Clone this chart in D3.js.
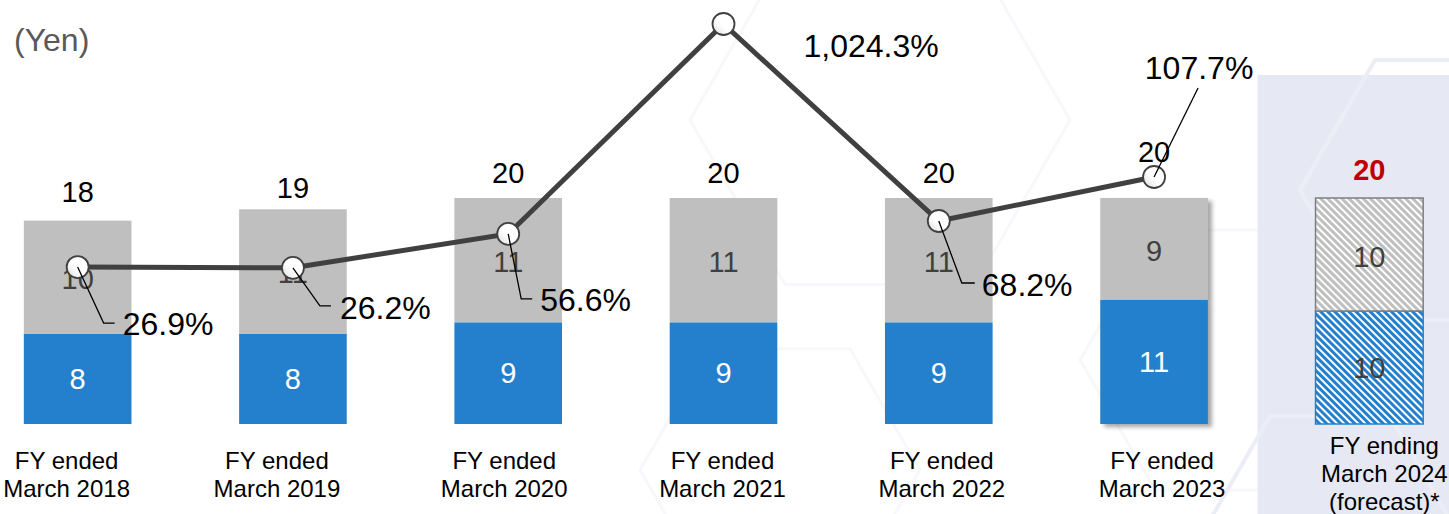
<!DOCTYPE html>
<html>
<head>
<meta charset="utf-8">
<script src="https://cdn.jsdelivr.net/npm/d3@7"></script>
<style>
  body { margin: 0; background: #fff; }
  svg { display: block; font-family: "Liberation Sans", Arial, sans-serif; }
</style>
</head>
<body>
<svg id="chart" width="1449" height="514"></svg>
<script>
// Dividend per share (yen) and payout ratio, by fiscal year
const categories = ["FY2018", "FY2019", "FY2020", "FY2021", "FY2022", "FY2023", "FY2024F"];
const axisLabels = [
  ["FY ended", "March 2018"],
  ["FY ended", "March 2019"],
  ["FY ended", "March 2020"],
  ["FY ended", "March 2021"],
  ["FY ended", "March 2022"],
  ["FY ended", "March 2023"],
  ["FY ending", "March 2024", "(forecast)*"]
];
const interimDividend = [8, 8, 9, 9, 9, 11, 10];
const yearEndDividend = [10, 11, 11, 11, 11, 9, 10];
const annualDividend = [18, 19, 20, 20, 20, 20, 20];
const payoutRatio = [26.9, 26.2, 56.6, 1024.3, 68.2, 107.7];
const forecastIndex = 6;

const svg = d3.select("#chart");
const W = 1449, H = 514;

const x = d3.scaleBand().domain(categories).range([-30, 1477]).paddingInner(0.5).paddingOuter(0.25);
const y = d3.scaleLinear().domain([0, 20]).range([424, 198]);
// payout ratio axis (hidden); values beyond the top are pinned to the plot edge
const y2 = d3.scaleLinear().domain([0, 245]).range([297, 24]).clamp(true);
const cx = d => x(d) + x.bandwidth() / 2;

const GREY = "#bfbfbf", BLUE = "#2480cc", DARK = "#404040";

// ---- defs: hatching, shadow, marker gradient
const defs = svg.append("defs");
function hatch(id, base) {
  const p = defs.append("pattern").attr("id", id).attr("patternUnits", "userSpaceOnUse")
    .attr("width", 5).attr("height", 5).attr("patternTransform", "rotate(-45)");
  p.append("rect").attr("width", 5).attr("height", 5).attr("fill", base);
  p.append("rect").attr("x", 0).attr("width", 2).attr("height", 5).attr("fill", "#fff");
}
hatch("hatchGrey", GREY);
hatch("hatchBlue", BLUE);
const sh = defs.append("filter").attr("id", "shadow").attr("x", "-10%").attr("y", "-10%").attr("width", "130%").attr("height", "130%");
sh.append("feDropShadow").attr("dx", 4).attr("dy", 3).attr("stdDeviation", 2)
  .attr("flood-color", "#000").attr("flood-opacity", 0.35);
const g = defs.append("linearGradient").attr("id", "dot").attr("x1", 1).attr("y1", 0).attr("x2", 0).attr("y2", 1);
g.append("stop").attr("offset", "0%").attr("stop-color", "#ffffff");
g.append("stop").attr("offset", "55%").attr("stop-color", "#ffffff");
g.append("stop").attr("offset", "100%").attr("stop-color", "#dcdcdc");

// ---- background: faint hexagon ornament and forecast panel
const hexPath = (hx, hy, r) => d3.range(6).map(i => {
  const a = Math.PI / 3 * i;
  return [hx + r * Math.cos(a), hy + r * Math.sin(a)];
});
const hexLine = d3.line().curve(d3.curveLinearClosed);
const ornaments = [[880, 120, 190], [780, 470, 140], [1230, 360, 150]];
svg.append("g").selectAll("path").data(ornaments).join("path")
  .attr("d", d => hexLine(hexPath(...d)))
  .attr("fill", "none").attr("stroke", "#f7f8fb").attr("stroke-width", 3);

const panelX = x(categories[forecastIndex]) - 58;
svg.append("rect").attr("x", panelX).attr("y", 75).attr("width", W - panelX).attr("height", H - 75)
  .attr("fill", "#e6e9f4");
const panelOrn = [[1450, 190, 150], [1330, 520, 120]];
svg.append("g").selectAll("path").data(panelOrn).join("path")
  .attr("d", d => hexLine(hexPath(...d)))
  .attr("fill", "none").attr("stroke", "#eceef7").attr("stroke-width", 4);

// ---- stacked bars
const rows = categories.map((c, i) => ({
  c, i, lo: interimDividend[i], hi: yearEndDividend[i], total: annualDividend[i], fc: i === forecastIndex
}));

const bars = svg.append("g");
rows.forEach(d => {
  const grp = bars.append("g");
  if (d.i === 5) grp.attr("filter", "url(#shadow)");
  grp.append("rect")
    .attr("x", x(d.c)).attr("width", x.bandwidth())
    .attr("y", y(d.lo)).attr("height", y(0) - y(d.lo))
    .attr("fill", d.fc ? "url(#hatchBlue)" : BLUE)
    .attr("stroke", d.fc ? BLUE : "none").attr("stroke-width", 1.5);
  grp.append("rect")
    .attr("x", x(d.c)).attr("width", x.bandwidth())
    .attr("y", y(d.lo + d.hi)).attr("height", y(d.lo) - y(d.lo + d.hi))
    .attr("fill", d.fc ? "url(#hatchGrey)" : GREY)
    .attr("stroke", d.fc ? "#7f7f7f" : "none").attr("stroke-width", 1.5);
});

// segment labels
const segs = svg.append("g").attr("font-size", 29).attr("text-anchor", "middle");
rows.forEach(d => {
  segs.append("text").attr("x", cx(d.c)).attr("y", (y(0) + y(d.lo)) / 2 + 10)
    .attr("fill", d.fc ? DARK : "#fff").text(d.lo);
  segs.append("text").attr("x", cx(d.c)).attr("y", (y(d.lo) + y(d.lo + d.hi)) / 2 + 12)
    .attr("fill", DARK).text(d.hi);
});

// totals above bars
const totalLift = [19, 11, 15, 15, 15, 36, 18];
svg.append("g").attr("font-size", 29).attr("text-anchor", "middle")
  .selectAll("text").data(rows).join("text")
  .attr("x", d => cx(d.c)).attr("y", d => y(d.total) - totalLift[d.i])
  .attr("fill", d => d.fc ? "#c00000" : "#000")
  .attr("font-weight", d => d.fc ? "bold" : "normal")
  .text(d => d.total);

// ---- payout ratio line
const pts = payoutRatio.map((v, i) => ({ v, i, px: cx(categories[i]), py: y2(v) }));
svg.append("path").datum(pts)
  .attr("d", d3.line().x(d => d.px).y(d => d.py))
  .attr("fill", "none").attr("stroke", DARK).attr("stroke-width", 5);
svg.append("g").selectAll("circle").data(pts).join("circle")
  .attr("cx", d => d.px).attr("cy", d => d.py).attr("r", 11)
  .attr("fill", "url(#dot)").attr("stroke", DARK).attr("stroke-width", 1.8);

// leader lines and ratio labels (offsets from each point)
const leaders = [
  { elbow: [26, 56], end: [37, 56], text: [45, 56], anchor: "start" },
  { elbow: [27, 38], end: [38, 38], text: [47, 40], anchor: "start" },
  { elbow: [13, 65], end: [24, 65], text: [32, 66], anchor: "start" },
  { elbow: null, end: null, text: [80, 21], anchor: "start" },
  { elbow: [23, 62], end: [36, 62], text: [43, 63], anchor: "start" },
  { elbow: [44, -89], end: null, text: [45, -109], anchor: "middle" }
];
const fmt = v => d3.format(",.1f")(v) + "%";
const lab = svg.append("g");
pts.forEach(d => {
  const L = leaders[d.i];
  if (L.elbow) {
    const seg = [[d.px, d.py], [d.px + L.elbow[0], d.py + L.elbow[1]]];
    if (L.end) seg.push([d.px + L.end[0], d.py + L.end[1]]);
    lab.append("path").attr("d", d3.line()(seg))
      .attr("fill", "none").attr("stroke", "#000").attr("stroke-width", 1.3);
  }
  lab.append("text").attr("x", d.px + L.text[0]).attr("y", d.py + L.text[1] + 11.5)
    .attr("text-anchor", L.anchor).attr("font-size", 32).attr("fill", "#000")
    .text(fmt(d.v));
});

// ---- category labels
const labelShift = [-11, -16, -4, -1, 3, 8, 15];
const xl = svg.append("g").attr("font-size", 24).attr("text-anchor", "middle").attr("fill", "#000");
rows.forEach(d => {
  const lines = axisLabels[d.i];
  const top = d.fc ? 446 : 461;
  lines.forEach((t, k) => {
    xl.append("text").attr("x", cx(d.c) + labelShift[d.i]).attr("y", top + k * 28 + 8).text(t);
  });
});

// unit
svg.append("text").attr("x", 14).attr("y", 51).attr("font-size", 32).attr("fill", "#595959").text("(Yen)");
</script>
</body>
</html>
